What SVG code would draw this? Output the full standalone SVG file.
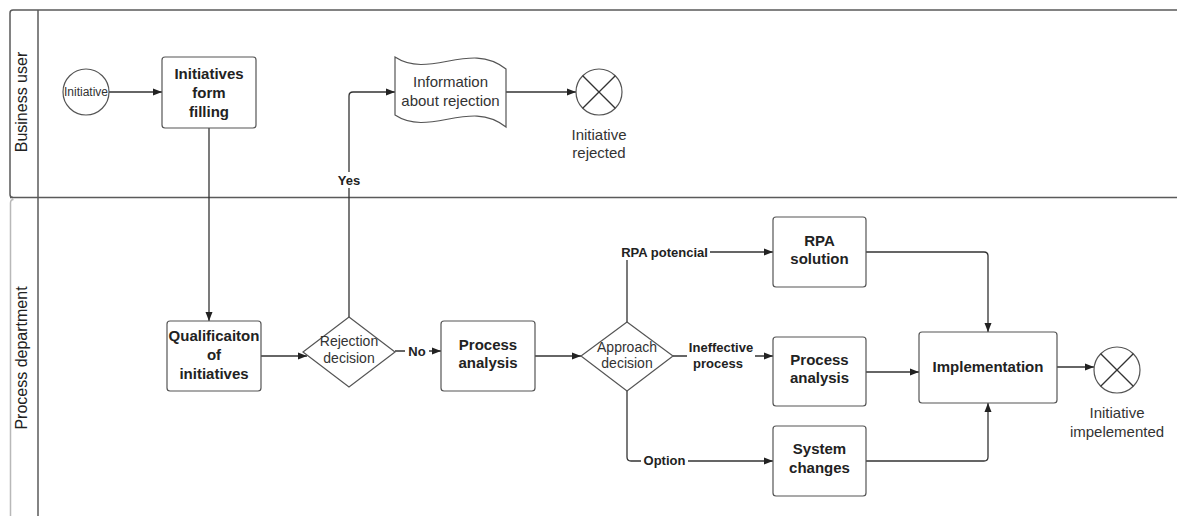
<svg xmlns="http://www.w3.org/2000/svg" width="1177" height="516" viewBox="0 0 1177 516">
  <style>
    .lane { fill: none; stroke: #5a5a5a; stroke-width: 1.5; }
    .lane-soft { fill: none; stroke: #b8b8b8; stroke-width: 1.5; }
    .lane-title { font-family: "Liberation Sans", Arial, sans-serif; font-size: 16px; fill: #222; text-anchor: middle; }
    .box { fill: #fff; stroke: #555; stroke-width: 1.2; }
    .shape { fill: #fff; stroke: #555; stroke-width: 1.2; }
    .task { font-family: "Liberation Sans", Arial, sans-serif; font-size: 15px; font-weight: bold; fill: #222; text-anchor: middle; }
    .plain { font-family: "Liberation Sans", Arial, sans-serif; font-size: 14px; fill: #333; text-anchor: middle; }
    .caption { font-family: "Liberation Sans", Arial, sans-serif; font-size: 15px; fill: #333; text-anchor: middle; }
    .small { font-family: "Liberation Sans", Arial, sans-serif; font-size: 12px; fill: #333; text-anchor: middle; }
    .edge { fill: none; stroke: #333; stroke-width: 1.3; }
    .edge-label { font-family: "Liberation Sans", Arial, sans-serif; font-size: 13px; font-weight: bold; fill: #222; text-anchor: middle; }
    .label-bg { fill: #fff; stroke: none; }
  </style>
  <defs>
    <marker id="arrow" markerUnits="userSpaceOnUse" markerWidth="10" markerHeight="8" refX="9" refY="4" orient="auto">
      <path d="M0,0.5 L9,4 L0,7.5 Z" fill="#222"/>
    </marker>
  </defs>

  <rect width="1177" height="516" fill="#fff"/>

  <!-- Pool with two lanes -->
  <g id="pool">
    <path class="lane" d="M1177,10 L13,10 Q10,10 10,13 L10,194.5 Q10,197.5 13,197.5"/>
    <line class="lane" x1="10" y1="197.5" x2="1177" y2="197.5"/>
    <line class="lane" x1="38" y1="10" x2="38" y2="516"/>
    <path class="lane-soft" d="M13.5,199.5 Q10.5,199.5 10.5,203 L10.5,516"/>
    <text class="lane-title" transform="translate(27,102) rotate(-90)">Business user</text>
    <text class="lane-title" transform="translate(27,358) rotate(-90)">Process department</text>
  </g>

  <!-- Connectors -->
  <g id="connectors">
    <line class="edge" x1="109" y1="92" x2="162" y2="92" marker-end="url(#arrow)"/>
    <line class="edge" x1="209" y1="128" x2="209" y2="321" marker-end="url(#arrow)"/>
    <line class="edge" x1="261" y1="356" x2="307" y2="356" marker-end="url(#arrow)"/>
    <path class="edge" d="M349,317 L349,96 Q349,92 353,92 L395,92" marker-end="url(#arrow)"/>
    <line class="edge" x1="506" y1="92" x2="576" y2="92" marker-end="url(#arrow)"/>
    <line class="edge" x1="395" y1="351" x2="441" y2="351" marker-end="url(#arrow)"/>
    <line class="edge" x1="535" y1="356" x2="581" y2="356" marker-end="url(#arrow)"/>
    <path class="edge" d="M627,322 L627,256 Q627,252 631,252 L773,252" marker-end="url(#arrow)"/>
    <line class="edge" x1="673" y1="356" x2="773" y2="356" marker-end="url(#arrow)"/>
    <path class="edge" d="M627,391 L627,457 Q627,461 631,461 L773,461" marker-end="url(#arrow)"/>
    <path class="edge" d="M866,252 L984,252 Q988,252 988,256 L988,332" marker-end="url(#arrow)"/>
    <line class="edge" x1="866" y1="372" x2="919" y2="372" marker-end="url(#arrow)"/>
    <path class="edge" d="M866,461 L984,461 Q988,461 988,457 L988,403" marker-end="url(#arrow)"/>
    <line class="edge" x1="1057" y1="367" x2="1094" y2="367" marker-end="url(#arrow)"/>

    <rect class="label-bg" x="335" y="172" width="28" height="16"/>
    <text class="edge-label" x="349" y="185">Yes</text>
    <rect class="label-bg" x="405" y="344" width="24" height="14"/>
    <text class="edge-label" x="417" y="355.5">No</text>
    <rect class="label-bg" x="619" y="244" width="91" height="16"/>
    <text class="edge-label" x="664.5" y="256.5">RPA potencial</text>
    <rect class="label-bg" x="687" y="338" width="68" height="32"/>
    <text class="edge-label" x="721" y="351.5">Ineffective</text>
    <text class="edge-label" x="718" y="367.5">process</text>
    <rect class="label-bg" x="641" y="453" width="47" height="16"/>
    <text class="edge-label" x="664.5" y="465">Option</text>
  </g>

  <!-- Business user lane -->
  <g id="start">
    <circle class="shape" cx="86" cy="92" r="23"/>
    <text class="small" x="86" y="96">Initiative</text>
  </g>
  <g id="form-filling">
    <rect class="box" x="162" y="57" width="94" height="71" rx="3"/>
    <text class="task" x="209" y="79">Initiatives</text>
    <text class="task" x="209" y="98">form</text>
    <text class="task" x="209" y="116.5">filling</text>
  </g>
  <g id="rejection-info">
    <path class="shape" d="M395,57 C430,80 470,40 506,69 L506,127 C470,98 430,138 395,115 Z"/>
    <text class="caption" x="450.5" y="87">Information</text>
    <text class="caption" x="450.5" y="106">about rejection</text>
  </g>
  <g id="end-rejected">
    <circle class="shape" cx="599" cy="92" r="23"/>
    <line class="edge" x1="582.7" y1="75.7" x2="615.3" y2="108.3" stroke="#555"/>
    <line class="edge" x1="615.3" y1="75.7" x2="582.7" y2="108.3" stroke="#555"/>
    <text class="caption" x="599" y="140">Initiative</text>
    <text class="caption" x="599" y="158">rejected</text>
  </g>

  <!-- Process department lane -->
  <g id="qualification">
    <rect class="box" x="167" y="321" width="94" height="70" rx="3"/>
    <text class="task" x="214" y="341">Qualificaiton</text>
    <text class="task" x="214" y="360">of</text>
    <text class="task" x="214" y="378.5">initiatives</text>
  </g>
  <g id="rejection-decision">
    <path class="shape" d="M349,317 L395,352 L349,387 L303,352 Z"/>
    <text class="plain" x="349" y="346">Rejection</text>
    <text class="plain" x="349" y="363">decision</text>
  </g>
  <g id="process-analysis">
    <rect class="box" x="441" y="321" width="94" height="70" rx="3"/>
    <text class="task" x="488" y="350">Process</text>
    <text class="task" x="488" y="368">analysis</text>
  </g>
  <g id="approach-decision">
    <path class="shape" d="M627,322 L673,356 L627,391 L581,356 Z"/>
    <text class="plain" x="627" y="352">Approach</text>
    <text class="plain" x="627" y="368">decision</text>
  </g>
  <g id="rpa-solution">
    <rect class="box" x="773" y="217" width="93" height="70" rx="3"/>
    <text class="task" x="819.5" y="246">RPA</text>
    <text class="task" x="819.5" y="264">solution</text>
  </g>
  <g id="process-analysis-2">
    <rect class="box" x="773" y="337" width="93" height="69" rx="3"/>
    <text class="task" x="819.5" y="365">Process</text>
    <text class="task" x="819.5" y="383">analysis</text>
  </g>
  <g id="system-changes">
    <rect class="box" x="773" y="426" width="93" height="70" rx="3"/>
    <text class="task" x="819.5" y="454">System</text>
    <text class="task" x="819.5" y="472.5">changes</text>
  </g>
  <g id="implementation">
    <rect class="box" x="919" y="332" width="138" height="71" rx="3"/>
    <text class="task" x="988" y="371.5">Implementation</text>
  </g>
  <g id="end-implemented">
    <circle class="shape" cx="1117" cy="370" r="23"/>
    <line class="edge" x1="1100.7" y1="353.7" x2="1133.3" y2="386.3" stroke="#555"/>
    <line class="edge" x1="1133.3" y1="353.7" x2="1100.7" y2="386.3" stroke="#555"/>
    <text class="caption" x="1117" y="418">Initiative</text>
    <text class="caption" x="1117" y="437">impelemented</text>
  </g>
</svg>
